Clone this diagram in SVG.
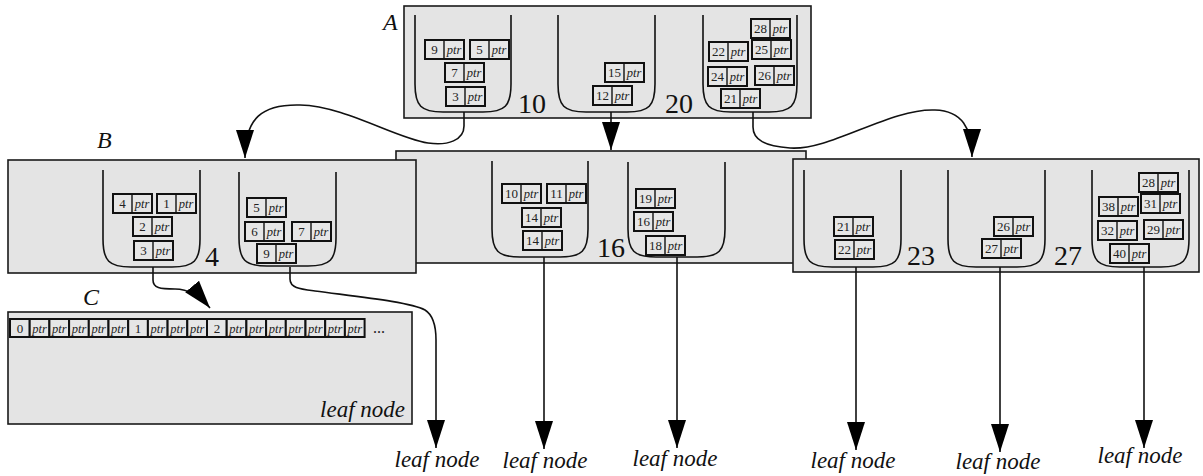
<svg xmlns="http://www.w3.org/2000/svg" xmlns:xlink="http://www.w3.org/1999/xlink" width="1203" height="476" viewBox="0 0 1203 476">
  <style>
    .node { fill: #e4e4e4; stroke: #1a1a1a; stroke-width: 1.6; }
    .bucket { fill: none; stroke: #111; stroke-width: 1.6; }
    .cell { fill: #e6e6e6; stroke: #111; stroke-width: 2; }
    .div { stroke: #111; stroke-width: 1.4; }
    .key { font-family: "Liberation Serif", "Times New Roman", serif; font-size: 13px; fill: #222; text-anchor: middle; }
    .ptr { font-family: "Liberation Serif", "Times New Roman", serif; font-style: italic; font-size: 12.5px; fill: #222; text-anchor: middle; }
    .big { font-family: "Liberation Serif", "Times New Roman", serif; font-size: 28px; fill: #111; }
    .name { font-family: "Liberation Serif", "Times New Roman", serif; font-style: italic; font-size: 24px; fill: #111; }
    .leaf { font-family: "Liberation Serif", "Times New Roman", serif; font-style: italic; font-size: 23px; fill: #111; text-anchor: middle; }
    .wire { fill: none; stroke: #111; stroke-width: 1.6; }
  </style>
  <defs>
    <!-- one key/pointer slot: key box + ptr box -->
    <g id="slot">
      <rect class="cell" x="0" y="0" width="39" height="19"/>
      <line class="div" x1="19" y1="0" x2="19" y2="19"/>
      <text class="ptr" x="29" y="14">ptr</text>
    </g>
    <marker id="head" markerUnits="userSpaceOnUse" markerWidth="30" markerHeight="20" refX="28" refY="9" orient="auto">
      <path d="M0,0 L28,9 L0,18 z" fill="#000"/>
    </marker>
  </defs>

  <!-- middle inner node (drawn first, partly covered by its neighbours) -->
  <g id="node-mid">
    <rect class="node" x="396" y="151" width="410" height="112"/>
    <path class="bucket" d="M492,161 V229 C492,251 498,257 520,257 H560 C582,257 588,251 588,229 V161"/>
    <path class="bucket" d="M628,162 V229 C628,251 634,257 656,257 H697 C719,257 725,251 725,229 V162"/>
    <use href="#slot" x="502" y="184"/><text class="key" x="511.5" y="198">10</text>
    <use href="#slot" x="547" y="184"/><text class="key" x="556.5" y="198">11</text>
    <use href="#slot" x="522" y="208"/><text class="key" x="531.5" y="222">14</text>
    <use href="#slot" x="523" y="231"/><text class="key" x="532.5" y="245">14</text>
    <use href="#slot" x="636" y="189"/><text class="key" x="645.5" y="203">19</text>
    <use href="#slot" x="634" y="212"/><text class="key" x="643.5" y="226">16</text>
    <use href="#slot" x="646" y="236"/><text class="key" x="655.5" y="250">18</text>
    <text class="big" x="597" y="257">16</text>
  </g>

  <!-- root node A -->
  <g id="node-a">
    <text class="name" x="383" y="30">A</text>
    <rect class="node" x="404" y="6" width="407" height="112"/>
    <path class="bucket" d="M415,15 V84 C415,106 421,112 443,112 H483 C505,112 511,106 511,84 V15"/>
    <path class="bucket" d="M558,15 V84 C558,106 564,112 586,112 H627 C649,112 655,106 655,84 V15"/>
    <path class="bucket" d="M703,15 V84 C703,106 709,112 731,112 H769 C791,112 797,106 797,84 V15"/>
    <use href="#slot" x="425" y="40"/><text class="key" x="434.5" y="54">9</text>
    <use href="#slot" x="470" y="40"/><text class="key" x="479.5" y="54">5</text>
    <use href="#slot" x="445" y="63"/><text class="key" x="454.5" y="77">7</text>
    <use href="#slot" x="446" y="87"/><text class="key" x="455.5" y="101">3</text>
    <use href="#slot" x="605" y="63"/><text class="key" x="614.5" y="77">15</text>
    <use href="#slot" x="593" y="86"/><text class="key" x="602.5" y="100">12</text>
    <use href="#slot" x="751" y="19"/><text class="key" x="760.5" y="33">28</text>
    <use href="#slot" x="709" y="42"/><text class="key" x="718.5" y="56">22</text>
    <use href="#slot" x="752" y="40"/><text class="key" x="761.5" y="54">25</text>
    <use href="#slot" x="708" y="67"/><text class="key" x="717.5" y="81">24</text>
    <use href="#slot" x="755" y="66"/><text class="key" x="764.5" y="80">26</text>
    <use href="#slot" x="721" y="89"/><text class="key" x="730.5" y="103">21</text>
    <text class="big" x="518" y="113">10</text>
    <text class="big" x="665" y="113">20</text>
  </g>

  <!-- inner node B -->
  <g id="node-b">
    <text class="name" x="97" y="148">B</text>
    <rect class="node" x="8" y="160" width="408" height="113"/>
    <path class="bucket" d="M103,170 V239 C103,261 109,267 131,267 H172 C194,267 200,261 200,239 V170"/>
    <path class="bucket" d="M239,172 V238 C239,260 245,266 267,266 H308 C330,266 336,260 336,238 V172"/>
    <use href="#slot" x="113" y="194"/><text class="key" x="122.5" y="208">4</text>
    <use href="#slot" x="157" y="194"/><text class="key" x="166.5" y="208">1</text>
    <use href="#slot" x="133" y="217"/><text class="key" x="142.5" y="231">2</text>
    <use href="#slot" x="134" y="241"/><text class="key" x="143.5" y="255">3</text>
    <use href="#slot" x="247" y="198"/><text class="key" x="256.5" y="212">5</text>
    <use href="#slot" x="245" y="222"/><text class="key" x="254.5" y="236">6</text>
    <use href="#slot" x="292" y="222"/><text class="key" x="301.5" y="236">7</text>
    <use href="#slot" x="257" y="244"/><text class="key" x="266.5" y="258">9</text>
    <text class="big" x="205" y="266">4</text>
  </g>

  <!-- right inner node -->
  <g id="node-right">
    <rect class="node" x="793" y="159" width="406" height="113"/>
    <path class="bucket" d="M804,170 V239 C804,261 810,267 832,267 H873 C895,267 901,261 901,239 V170"/>
    <path class="bucket" d="M948,170 V239 C948,261 954,267 976,267 H1017 C1039,267 1045,261 1045,239 V170"/>
    <path class="bucket" d="M1092,170 V239 C1092,261 1098,267 1120,267 H1161 C1183,267 1189,261 1189,239 V170"/>
    <use href="#slot" x="834" y="217"/><text class="key" x="843.5" y="231">21</text>
    <use href="#slot" x="835" y="240"/><text class="key" x="844.5" y="254">22</text>
    <use href="#slot" x="994" y="217"/><text class="key" x="1003.5" y="231">26</text>
    <use href="#slot" x="982" y="239"/><text class="key" x="991.5" y="253">27</text>
    <use href="#slot" x="1139" y="173"/><text class="key" x="1148.5" y="187">28</text>
    <use href="#slot" x="1099" y="197"/><text class="key" x="1108.5" y="211">38</text>
    <use href="#slot" x="1141" y="194"/><text class="key" x="1150.5" y="208">31</text>
    <use href="#slot" x="1098" y="221"/><text class="key" x="1107.5" y="235">32</text>
    <use href="#slot" x="1144" y="220"/><text class="key" x="1153.5" y="234">29</text>
    <use href="#slot" x="1110" y="244"/><text class="key" x="1119.5" y="258">40</text>
    <text class="big" x="907" y="265">23</text>
    <text class="big" x="1054" y="265">27</text>
  </g>

  <!-- leaf node C: a flat run of keys followed by pointers -->
  <g id="node-c">
    <text class="name" x="83" y="305">C</text>
    <rect class="node" x="8" y="312" width="404" height="112"/>
    <g class="cell">
      <rect x="10" y="319" width="19.7" height="18"/>
      <rect x="29.7" y="319" width="19.7" height="18"/>
      <rect x="49.4" y="319" width="19.7" height="18"/>
      <rect x="69.1" y="319" width="19.7" height="18"/>
      <rect x="88.8" y="319" width="19.7" height="18"/>
      <rect x="108.5" y="319" width="19.7" height="18"/>
      <rect x="128.2" y="319" width="19.7" height="18"/>
      <rect x="147.9" y="319" width="19.7" height="18"/>
      <rect x="167.6" y="319" width="19.7" height="18"/>
      <rect x="187.3" y="319" width="19.7" height="18"/>
      <rect x="207" y="319" width="19.7" height="18"/>
      <rect x="226.7" y="319" width="19.7" height="18"/>
      <rect x="246.4" y="319" width="19.7" height="18"/>
      <rect x="266.1" y="319" width="19.7" height="18"/>
      <rect x="285.8" y="319" width="19.7" height="18"/>
      <rect x="305.5" y="319" width="19.7" height="18"/>
      <rect x="325.2" y="319" width="19.7" height="18"/>
      <rect x="344.9" y="319" width="19.7" height="18"/>
    </g>
    <text class="key" x="19.9" y="333">0</text>
    <text class="ptr" x="39.6" y="333">ptr</text>
    <text class="ptr" x="59.3" y="333">ptr</text>
    <text class="ptr" x="79" y="333">ptr</text>
    <text class="ptr" x="98.7" y="333">ptr</text>
    <text class="ptr" x="118.4" y="333">ptr</text>
    <text class="key" x="138.1" y="333">1</text>
    <text class="ptr" x="157.8" y="333">ptr</text>
    <text class="ptr" x="177.5" y="333">ptr</text>
    <text class="ptr" x="197.2" y="333">ptr</text>
    <text class="key" x="216.9" y="333">2</text>
    <text class="ptr" x="236.6" y="333">ptr</text>
    <text class="ptr" x="256.3" y="333">ptr</text>
    <text class="ptr" x="276" y="333">ptr</text>
    <text class="ptr" x="295.7" y="333">ptr</text>
    <text class="ptr" x="315.4" y="333">ptr</text>
    <text class="ptr" x="335.1" y="333">ptr</text>
    <text class="ptr" x="354.8" y="333">ptr</text>
    <text class="key" x="379" y="333" style="font-size:16px">...</text>
    <text class="leaf" x="405" y="417" style="text-anchor:end">leaf node</text>
  </g>

  <!-- child pointers -->
  <g id="connectors">
    <path class="wire" marker-end="url(#head)" d="M464,112 V126 C464,140 448,146 428,143 C395,138 345,106 300,105 C262,104 245,118 245,158"/>
    <path class="wire" marker-end="url(#head)" d="M611,112 V150"/>
    <path class="wire" marker-end="url(#head)" d="M753,112 V127 C753,140 765,146 790,148 C830,151 890,108 935,110 C962,111 972,128 972,157"/>
    <path class="wire" marker-end="url(#head)" d="M153,267 V280 C153,288 160,289 175,289 C188,289 200,296 210,308"/>
    <path class="wire" marker-end="url(#head)" d="M290,267 V279 C290,288 300,289 315,291 C360,297 410,302 425,310 C433,315 436,325 436,340 V448"/>
    <path class="wire" marker-end="url(#head)" d="M544,257 V449"/>
    <path class="wire" marker-end="url(#head)" d="M677,257 V448"/>
    <path class="wire" marker-end="url(#head)" d="M856,267 V450"/>
    <path class="wire" marker-end="url(#head)" d="M1000,267 V452"/>
    <path class="wire" marker-end="url(#head)" d="M1144,267 V448"/>
  </g>

  <!-- leaf labels under the arrows -->
  <g id="leaf-labels">
    <text class="leaf" x="437" y="467">leaf node</text>
    <text class="leaf" x="545" y="468">leaf node</text>
    <text class="leaf" x="675" y="466">leaf node</text>
    <text class="leaf" x="853" y="468">leaf node</text>
    <text class="leaf" x="998" y="469">leaf node</text>
    <text class="leaf" x="1140" y="463">leaf node</text>
  </g>
</svg>
